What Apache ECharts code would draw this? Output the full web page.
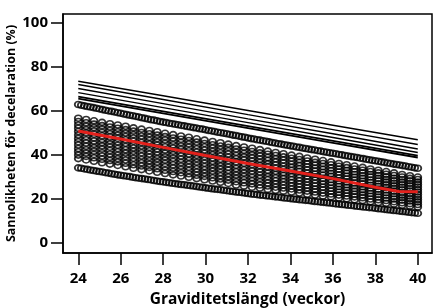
<!DOCTYPE html>
<html><head><meta charset="utf-8">
<script src="https://cdn.jsdelivr.net/npm/echarts@6/dist/echarts.min.js"></script>
<style>html,body{margin:0;padding:0;background:#fff}#c{width:436px;height:308px}</style>
</head><body><div id="c"></div>
<script>
// ---- tick labels ----
const weekTicks = [24, 26, 28, 30, 32, 34, 36, 38, 40];
const pctTicks = [0, 20, 40, 60, 80, 100];

// ---- middle cloud: 44 gestational-age columns, 13 predicted values each ----
const colWeeks = [24.00,24.37,24.74,25.12,25.49,25.86,26.23,26.60,26.98,27.35,27.72,28.09,28.47,28.84,29.21,29.58,29.95,30.33,30.70,31.07,31.44,31.81,32.19,32.56,32.93,33.30,33.67,34.05,34.42,34.79,35.16,35.53,35.91,36.28,36.65,37.02,37.40,37.77,38.14,38.51,38.88,39.26,39.63,40.00];
const colValues = [
[56.8,55.3,53.7,52.2,50.7,49.1,47.6,46.1,44.6,43.0,41.5,40.0,38.4],
[56.2,54.7,53.1,51.6,50.1,48.5,47.0,45.5,44.0,42.4,40.9,39.4,37.8],
[55.6,54.1,52.5,51.0,49.5,47.9,46.4,44.9,43.4,41.8,40.3,38.8,37.2],
[54.9,53.4,51.8,50.3,48.8,47.2,45.7,44.2,42.7,41.1,39.6,38.1,36.5],
[54.3,52.8,51.2,49.7,48.2,46.6,45.1,43.6,42.1,40.5,39.0,37.5,35.9],
[53.7,52.2,50.6,49.1,47.6,46.0,44.5,43.0,41.5,39.9,38.4,36.9,35.3],
[53.1,51.6,50.0,48.5,47.0,45.4,43.9,42.4,40.9,39.3,37.8,36.3,34.7],
[52.4,50.9,49.3,47.8,46.3,44.7,43.2,41.7,40.2,38.6,37.1,35.6,34.0],
[51.8,50.3,48.7,47.2,45.7,44.1,42.6,41.1,39.6,38.0,36.5,35.0,33.4],
[51.2,49.7,48.1,46.6,45.1,43.5,42.0,40.5,39.0,37.4,35.9,34.4,32.8],
[50.6,49.1,47.5,46.0,44.5,42.9,41.4,39.9,38.4,36.8,35.3,33.8,32.2],
[49.9,48.4,46.9,45.3,43.8,42.3,40.8,39.2,37.7,36.2,34.7,33.1,31.6],
[49.3,47.8,46.3,44.7,43.2,41.7,40.2,38.6,37.1,35.6,34.1,32.5,31.0],
[48.7,47.2,45.7,44.1,42.6,41.1,39.6,38.1,36.6,35.0,33.5,32.0,30.5],
[48.1,46.6,45.1,43.6,42.0,40.5,39.0,37.5,36.0,34.5,33.0,31.5,29.9],
[47.4,45.9,44.4,42.9,41.4,39.9,38.4,36.8,35.3,33.8,32.3,30.8,29.3],
[46.8,45.3,43.8,42.3,40.8,39.3,37.8,36.3,34.8,33.3,31.8,30.3,28.8],
[46.2,44.7,43.2,41.7,40.2,38.7,37.2,35.7,34.2,32.7,31.2,29.7,28.2],
[45.6,44.1,42.6,41.1,39.6,38.1,36.6,35.1,33.6,32.1,30.6,29.1,27.6],
[45.0,43.5,42.0,40.5,39.0,37.5,36.0,34.5,33.1,31.6,30.1,28.6,27.1],
[44.3,42.8,41.3,39.8,38.3,36.9,35.4,33.9,32.4,30.9,29.4,27.9,26.4],
[43.7,42.2,40.7,39.2,37.8,36.3,34.8,33.3,31.8,30.3,28.8,27.4,25.9],
[43.1,41.6,40.1,38.7,37.2,35.7,34.2,32.8,31.3,29.8,28.3,26.9,25.4],
[42.5,41.0,39.6,38.1,36.7,35.2,33.7,32.3,30.8,29.4,27.9,26.4,25.0],
[41.8,40.4,38.9,37.5,36.0,34.6,33.1,31.7,30.2,28.8,27.3,25.9,24.4],
[41.2,39.8,38.3,36.9,35.5,34.0,32.6,31.2,29.7,28.3,26.9,25.4,24.0],
[40.6,39.2,37.8,36.4,34.9,33.5,32.1,30.7,29.3,27.9,26.4,25.0,23.6],
[40.0,38.6,37.2,35.8,34.4,33.0,31.6,30.2,28.8,27.4,26.0,24.6,23.2],
[39.4,38.0,36.6,35.2,33.8,32.5,31.1,29.7,28.3,26.9,25.5,24.1,22.7],
[38.7,37.3,36.0,34.6,33.2,31.8,30.5,29.1,27.7,26.3,25.0,23.6,22.2],
[38.1,36.7,35.4,34.0,32.7,31.3,30.0,28.6,27.2,25.9,24.5,23.2,21.8],
[37.5,36.2,34.8,33.5,32.1,30.8,29.4,28.1,26.8,25.4,24.1,22.7,21.4],
[36.9,35.6,34.2,32.9,31.6,30.3,28.9,27.6,26.3,24.9,23.6,22.3,21.0],
[36.2,34.9,33.6,32.3,31.0,29.6,28.3,27.0,25.7,24.4,23.1,21.8,20.5],
[35.6,34.3,33.0,31.7,30.4,29.1,27.8,26.5,25.3,24.0,22.7,21.4,20.1],
[35.0,33.7,32.4,31.2,29.9,28.6,27.3,26.1,24.8,23.5,22.2,21.0,19.7],
[34.4,33.1,31.9,30.6,29.4,28.1,26.9,25.6,24.3,23.1,21.8,20.6,19.3],
[33.7,32.5,31.2,30.0,28.7,27.5,26.3,25.0,23.8,22.5,21.3,20.0,18.8],
[33.1,31.9,30.7,29.4,28.2,27.0,25.8,24.5,23.3,22.1,20.9,19.7,18.4],
[32.5,31.3,30.1,28.9,27.7,26.5,25.3,24.1,22.9,21.7,20.5,19.3,18.1],
[31.9,30.7,29.5,28.3,27.2,26.0,24.8,23.6,22.4,21.2,20.0,18.8,17.7],
[31.2,30.0,28.9,27.7,26.5,25.4,24.2,23.0,21.8,20.7,19.5,18.3,17.2],
[30.6,29.4,28.3,27.1,26.0,24.8,23.7,22.5,21.4,20.2,19.1,17.9,16.8],
[30.0,28.9,27.7,26.6,25.5,24.3,23.2,22.1,20.9,19.8,18.7,17.5,16.4]
];

// ---- dense upper and lower rows of circles, one per gestational day ----
const bandDays = [168,169,170,171,172,173,174,175,176,177,178,179,180,181,182,183,184,185,186,187,188,189,190,191,192,193,194,195,196,197,198,199,200,201,202,203,204,205,206,207,208,209,210,211,212,213,214,215,216,217,218,219,220,221,222,223,224,225,226,227,228,229,230,231,232,233,234,235,236,237,238,239,240,241,242,243,244,245,246,247,248,249,250,251,252,253,254,255,256,257,258,259,260,261,262,263,264,265,266,267,268,269,270,271,272,273,274,275,276,277,278,279,280];
const upperBand = [63.0,62.7,62.4,62.1,61.9,61.6,61.3,61.0,60.7,60.4,60.1,59.9,59.6,59.3,59.0,
58.7,58.4,58.1,57.9,57.6,57.3,57.0,56.7,56.4,56.1,55.9,55.6,55.3,55.0,
54.8,54.5,54.3,54.0,53.8,53.5,53.3,53.0,52.8,52.5,52.3,52.0,51.8,51.5,
51.2,51.0,50.7,50.4,50.2,49.9,49.7,49.4,49.1,48.9,48.6,48.3,48.1,47.8,
47.5,47.3,47.0,46.8,46.5,46.3,46.0,45.7,45.5,45.2,45.0,44.7,44.5,44.2,
44.0,43.7,43.5,43.2,43.0,42.7,42.5,42.3,42.0,41.8,41.5,41.3,41.0,40.8,
40.6,40.3,40.1,39.8,39.6,39.3,39.1,38.9,38.6,38.4,38.1,37.9,37.6,37.4,
37.2,36.9,36.7,36.4,36.2,35.9,35.7,35.5,35.2,35.0,34.7,34.5,34.2,34.0];
const lowerBand = [34.2,34.0,33.7,33.5,33.2,33.0,32.7,32.5,32.3,32.0,31.8,31.5,31.3,31.0,30.8,
30.6,30.4,30.2,29.9,29.7,29.5,29.3,29.1,28.9,28.7,28.4,28.2,28.0,27.8,
27.6,27.4,27.2,27.0,26.8,26.6,26.5,26.3,26.1,25.9,25.7,25.5,25.3,25.1,
24.9,24.7,24.5,24.4,24.2,24.0,23.8,23.6,23.4,23.2,23.1,22.9,22.7,22.5,
22.3,22.2,22.0,21.8,21.7,21.5,21.4,21.2,21.0,20.9,20.7,20.5,20.4,20.2,
20.0,19.9,19.7,19.6,19.4,19.3,19.1,18.9,18.8,18.6,18.5,18.3,18.2,18.0,
17.8,17.7,17.5,17.4,17.2,17.1,16.9,16.7,16.6,16.4,16.3,16.1,16.0,15.8,
15.6,15.5,15.3,15.1,15.0,14.8,14.7,14.5,14.3,14.2,14.0,13.8,13.7,13.5];

// ---- upper curves (thin lines) ----
const lineWeeks = [24, 28, 32, 36, 40];
const curve1 = [73.6, 67.0, 60.3, 53.6, 47.0];
const curve2 = [72.1, 65.3, 58.4, 51.6, 44.8];
const curve3 = [70.3, 63.4, 56.5, 49.7, 42.8];
const curve4 = [68.4, 61.6, 54.8, 48.0, 41.2];
const curve5 = [66.6, 59.9, 53.2, 46.5, 39.8];
const curve6 = [65.7, 59.0, 52.3, 45.6, 38.9];

// ---- red mean curve ----
const redWeeks = [24, 26, 28, 30, 32, 34, 36, 38, 39.1, 40];
const redValues = [51.0, 47.3, 43.5, 39.8, 36.2, 32.8, 29.3, 25.4, 23.4, 23.3];

// ---- build ----
const cloudData = [];
colWeeks.forEach((w, i) => colValues[i].forEach(v => cloudData.push([w, v])));
const upperData = bandDays.map((d, i) => [d / 7, upperBand[i]]);
const lowerData = bandDays.map((d, i) => [d / 7, lowerBand[i]]);
const pair = (xs, ys) => xs.map((x, i) => [x, ys[i]]);

const FONT = '"Open Sans", "DejaVu Sans", sans-serif';
const ring = { color: 'rgba(0,0,0,0)', borderColor: '#000', borderWidth: 1.7 };
const scatterBase = { type: 'scatter', symbol: 'circle', symbolSize: [7, 6], itemStyle: ring, silent: true, large: false, z: 2 };
const lineBase = (data, w) => ({ type: 'line', data, showSymbol: false, symbol: 'none', lineStyle: { color: '#000', width: w }, silent: true, z: 3 });

const chart = echarts.init(document.getElementById('c'), null, { renderer: 'canvas' });
chart.setOption({
  animation: false,
  backgroundColor: '#fff',
  grid: { left: 63, right: 4, top: 14, bottom: 55, containLabel: false, outerBoundsMode: 'none',
          show: true, borderColor: '#000', borderWidth: 1.5, backgroundColor: 'transparent' },
  xAxis: {
    type: 'value', min: 23.28, max: 40.67,
    name: 'Graviditetslängd (veckor)', nameLocation: 'middle', nameGap: 39, nameMoveOverlap: false,
    nameTextStyle: { fontFamily: FONT, fontWeight: 'bold', fontSize: 15.5, color: '#000' },
    axisLine: { show: true, onZero: false, lineStyle: { color: '#000', width: 1.5 } },
    axisTick: { show: true, inside: false, length: 12, customValues: weekTicks, lineStyle: { color: '#000', width: 1.5 } },
    axisLabel: { customValues: weekTicks, margin: 18, fontFamily: FONT, fontWeight: 'bold', fontSize: 15, color: '#000' },
    splitLine: { show: false }
  },
  yAxis: {
    type: 'value', min: -4.55, max: 104.2,
    name: 'Sannolikheten för decelaration (%)', nameLocation: 'middle', nameGap: 45, nameRotate: 90, nameMoveOverlap: false,
    nameTextStyle: { fontFamily: FONT, fontWeight: 'bold', fontSize: 12.5, color: '#000' },
    axisLine: { show: true, onZero: false, lineStyle: { color: '#000', width: 1.5 } },
    axisTick: { show: true, inside: false, length: 12, customValues: pctTicks, lineStyle: { color: '#000', width: 1.5 } },
    axisLabel: { customValues: pctTicks, margin: 15, fontFamily: FONT, fontWeight: 'bold', fontSize: 15, color: '#000' },
    splitLine: { show: false }
  },
  series: [
    Object.assign({}, scatterBase, { data: cloudData }),
    Object.assign({}, scatterBase, { data: upperData }),
    Object.assign({}, scatterBase, { data: lowerData }),
    lineBase(pair(lineWeeks, curve1), 1.4),
    lineBase(pair(lineWeeks, curve2), 1.4),
    lineBase(pair(lineWeeks, curve3), 1.4),
    lineBase(pair(lineWeeks, curve4), 1.4),
    lineBase(pair(lineWeeks, curve5), 1.8),
    lineBase(pair(lineWeeks, curve6), 1.8),
    { type: 'line', data: pair(redWeeks, redValues), showSymbol: false, symbol: 'none', silent: true, z: 5,
      lineStyle: { color: '#e3211c', width: 3 } }
  ]
});
</script></body></html>
